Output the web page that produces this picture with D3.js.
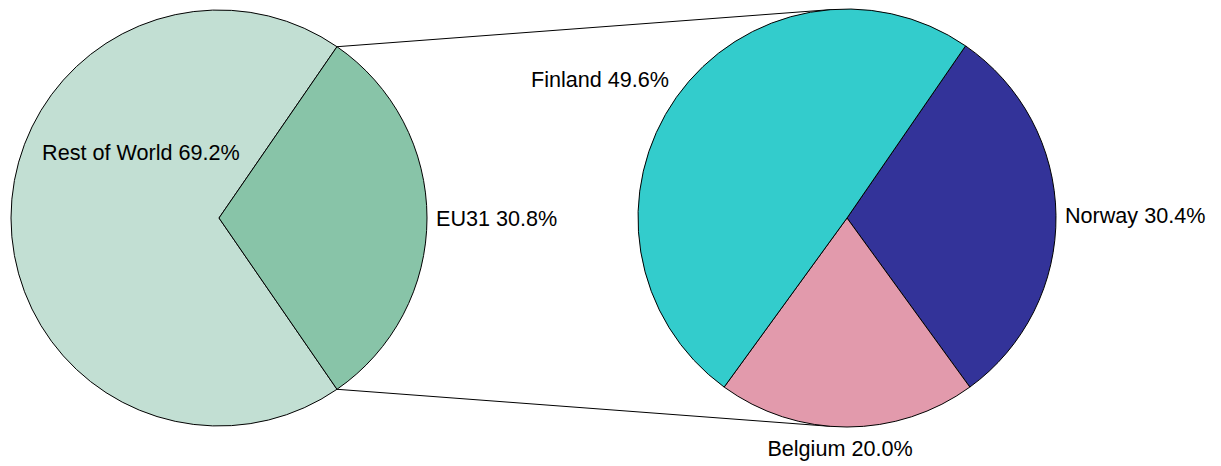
<!DOCTYPE html>
<html>
<head>
<meta charset="utf-8">
<script src="https://cdn.jsdelivr.net/npm/d3@7"></script>
<style>
  html, body { margin: 0; padding: 0; background: #fff; }
  svg { display: block; }
  text { font-family: "Liberation Sans", Arial, sans-serif; font-size: 21.6px; fill: #000; }
</style>
</head>
<body>
<svg id="chart" width="1221" height="466"></svg>
<script>
// Primary pie: world split
const mainCategories = ["Rest of World", "EU31"];
const mainValues = [69.2, 30.8];
const mainColors = ["#c2dfd3", "#88c4a8"];

// Secondary pie: breakdown of the EU31 slice
const subCategories = ["Norway", "Belgium", "Finland"];
const subValues = [30.4, 20.0, 49.6];
const subColors = ["#333399", "#e29aac", "#33cccc"];

const svg = d3.select("#chart");

const main = { cx: 219, cy: 218, r: 208 };
const sub = { cx: 847, cy: 218, r: 209 };

const total = d3.sum(mainValues);
const euIndex = 1;
const euSpan = mainValues[euIndex] / total * 2 * Math.PI;
// EU31 slice is centred on the east direction
const euStart = Math.PI / 2 - euSpan / 2;

// main pie: start so that the EU31 slice begins at euStart
const mainPie = d3.pie().sort(null).value(d => d)
  .startAngle(euStart - (2 * Math.PI - euSpan))
  .endAngle(euStart + euSpan);
const mainArcs = mainPie(mainValues);

const subPie = d3.pie().sort(null).value(d => d)
  .startAngle(euStart).endAngle(euStart + 2 * Math.PI);
const subArcs = subPie(subValues);

const arcMain = d3.arc().innerRadius(0).outerRadius(main.r);
const arcSub = d3.arc().innerRadius(0).outerRadius(sub.r);

const polar = (c, r, a) => [c.cx + r * Math.sin(a), c.cy - r * Math.cos(a)];

// connector lines from the EU31 slice edges, tangent to the secondary pie
function tangentPoint(p, c, side) {
  const dx = p[0] - c.cx, dy = p[1] - c.cy;
  const d = Math.hypot(dx, dy);
  const base = Math.atan2(dy, dx);
  const off = Math.acos(c.r / d);
  const a = base + side * off;
  return [c.cx + c.r * Math.cos(a), c.cy + c.r * Math.sin(a)];
}
const euArc = mainArcs[euIndex];
const pTop = polar(main, main.r, euArc.startAngle);
const pBot = polar(main, main.r, euArc.endAngle);
const tTop = tangentPoint(pTop, sub, 1);
const tBot = tangentPoint(pBot, sub, -1);

svg.append("g").selectAll("line")
  .data([[pTop, tTop], [pBot, tBot]])
  .join("line")
  .attr("x1", d => d[0][0]).attr("y1", d => d[0][1])
  .attr("x2", d => d[1][0]).attr("y2", d => d[1][1])
  .attr("stroke", "#000").attr("stroke-width", 1);

svg.append("g").attr("transform", `translate(${main.cx},${main.cy})`)
  .selectAll("path").data(mainArcs).join("path")
  .attr("d", arcMain)
  .attr("fill", (d, i) => mainColors[i])
  .attr("stroke", "#000").attr("stroke-width", 1)
  .attr("stroke-linejoin", "round");

svg.append("g").attr("transform", `translate(${sub.cx},${sub.cy})`)
  .selectAll("path").data(subArcs).join("path")
  .attr("d", arcSub)
  .attr("fill", (d, i) => subColors[i])
  .attr("stroke", "#000").attr("stroke-width", 1)
  .attr("stroke-linejoin", "round");

const fmt = v => v.toFixed(1) + "%";
const mid = d => (d.startAngle + d.endAngle) / 2;

// labels
const labels = [];
// Rest of World: inside, upper-left part of the slice
{
  const [x, y] = polar(main, main.r * 0.49, 2 * Math.PI * 0.861);
  labels.push({ x, y, text: `${mainCategories[0]} ${fmt(mainValues[0])}`, anchor: "middle", dy: "0.35em" });
}
// EU31: outside end
{
  const d = mainArcs[1];
  const [x, y] = polar(main, main.r + 9, mid(d));
  labels.push({ x, y, text: `${mainCategories[1]} ${fmt(mainValues[1])}`, anchor: "start", dy: "0.35em" });
}
subArcs.forEach((d, i) => {
  const a = mid(d);
  const [x, y] = polar(sub, sub.r + 9, a);
  const s = Math.sin(a), c = Math.cos(a);
  let anchor = "middle", dy = "0.35em", ox = 0, oy = 0;
  if (s > 0.5) anchor = "start";
  else if (s < -0.5) { anchor = "end"; oy = -13; ox = 0; }
  else if (c < 0) { dy = "0.9em"; ox = -7; oy = 1; }
  labels.push({ x: x + ox, y: y + oy, text: `${subCategories[i]} ${fmt(subValues[i])}`, anchor, dy });
});

svg.append("g").selectAll("text").data(labels).join("text")
  .attr("x", d => d.x).attr("y", d => d.y)
  .attr("dy", d => d.dy)
  .attr("text-anchor", d => d.anchor)
  .text(d => d.text);
</script>
</body>
</html>
